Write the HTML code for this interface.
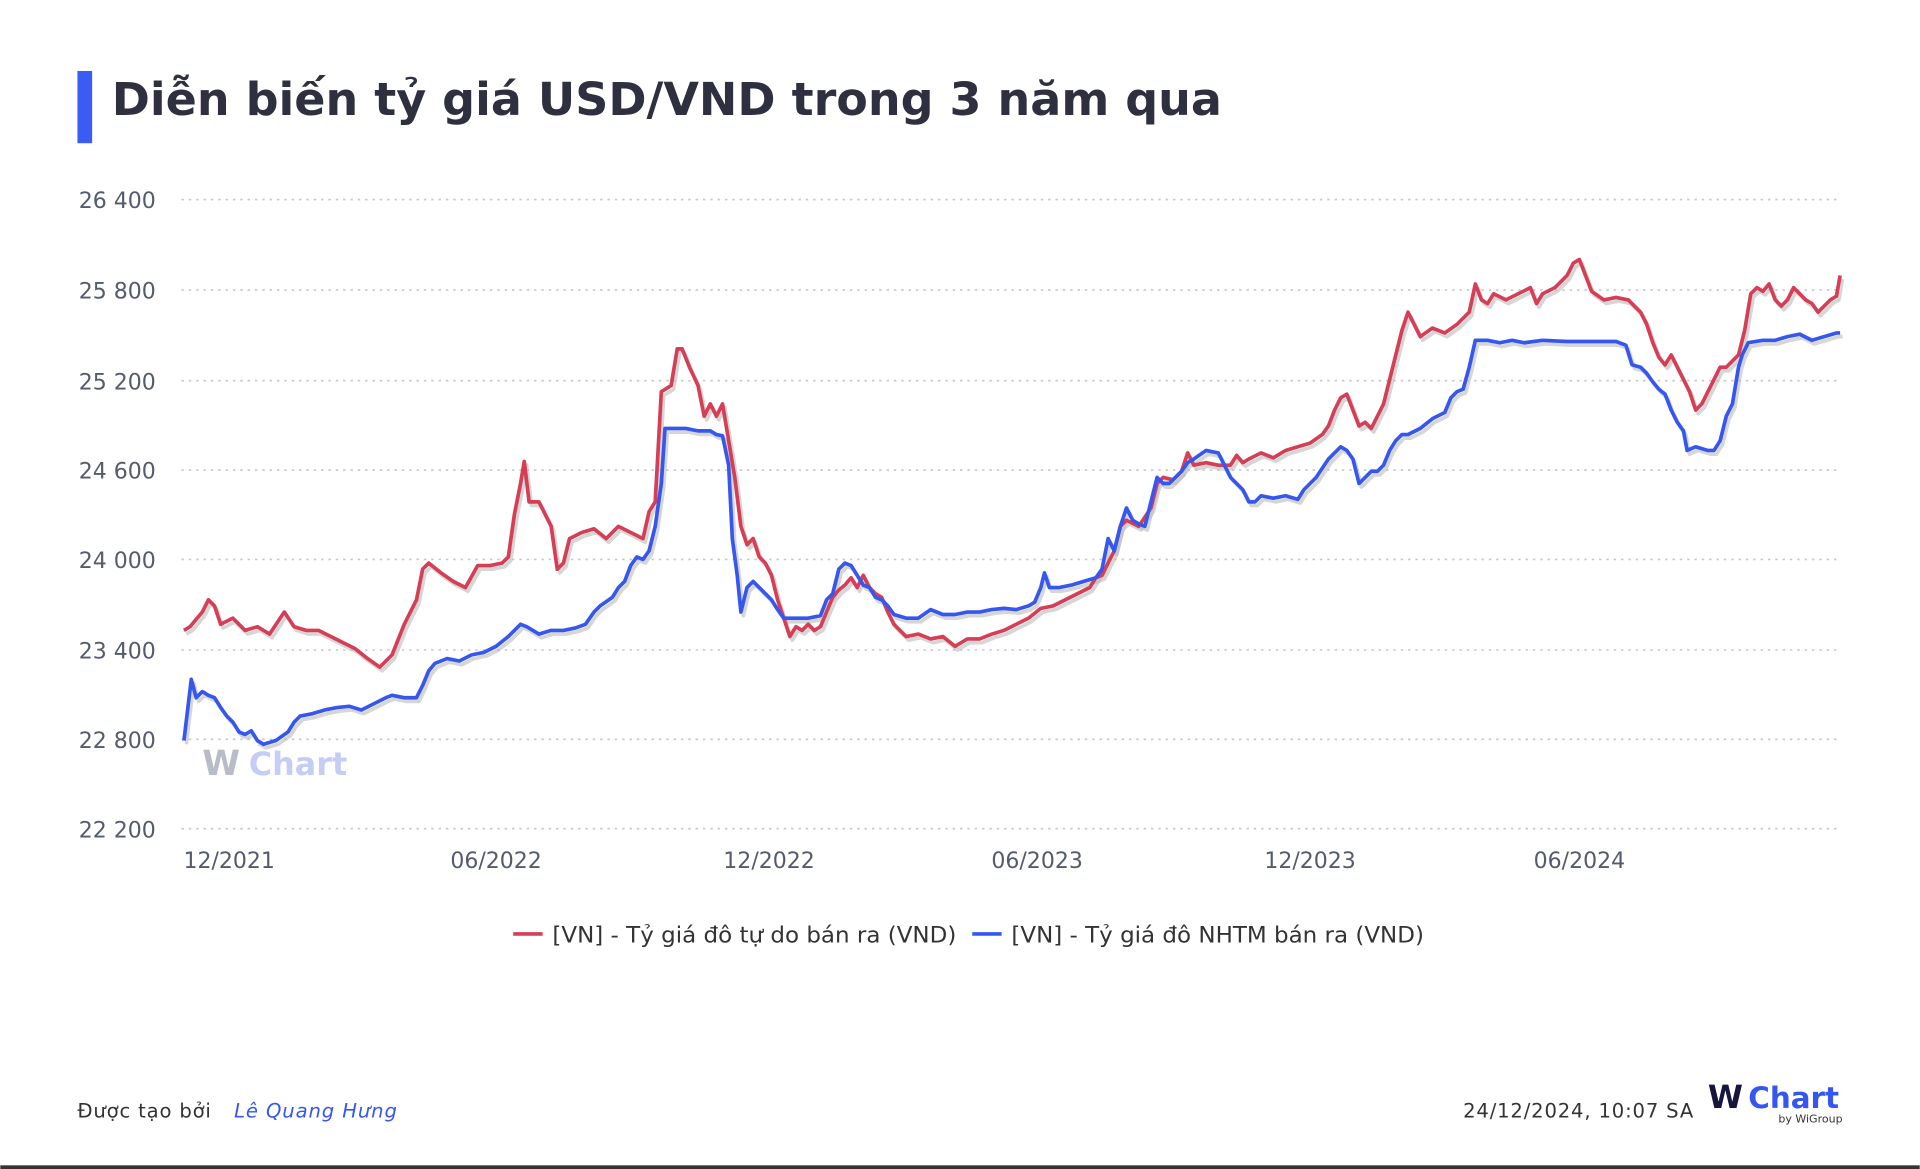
<!DOCTYPE html>
<html><head><meta charset="utf-8"><style>
html,body{margin:0;padding:0;background:#fff;}
svg{display:block;}
text{font-family:"DejaVu Sans","Liberation Sans",sans-serif;}
</style></head><body>
<svg width="1920" height="1169" viewBox="0 0 1568 955" xmlns="http://www.w3.org/2000/svg">
<rect width="1568" height="955" fill="#fff"/>
<rect x="63" y="58" width="12" height="59" fill="#3b5bf5"/>
<text x="91" y="94" font-size="37" font-weight="bold" fill="#2e3040" textLength="907" lengthAdjust="spacingAndGlyphs">Diễn biến tỷ giá USD/VND trong 3 năm qua</text>
<g stroke="#c8c8cc" stroke-width="1.3" stroke-dasharray="2,4">
<line x1="148" x2="1502" y1="163" y2="163"/><line x1="148" x2="1502" y1="237" y2="237"/>
<line x1="148" x2="1502" y1="311" y2="311"/><line x1="148" x2="1502" y1="384" y2="384"/>
<line x1="148" x2="1502" y1="457" y2="457"/><line x1="148" x2="1502" y1="531" y2="531"/>
<line x1="148" x2="1502" y1="604" y2="604"/><line x1="148" x2="1502" y1="677" y2="677"/>
</g>
<g font-size="18" fill="#555b6e" text-anchor="end">
<text x="127" y="170">26 400</text><text x="127" y="244">25 800</text><text x="127" y="318">25 200</text>
<text x="127" y="391">24 600</text><text x="127" y="464">24 000</text><text x="127" y="538">23 400</text>
<text x="127" y="611">22 800</text><text x="127" y="684">22 200</text>
</g>
<g font-size="18" fill="#555b6e" text-anchor="middle">
<text x="187" y="709">12/2021</text><text x="405" y="709">06/2022</text><text x="628" y="709">12/2022</text>
<text x="847" y="709">06/2023</text><text x="1070" y="709">12/2023</text><text x="1290" y="709">06/2024</text>
</g>
<text x="165" y="633" font-size="28" font-weight="bold" fill="#b8bcc8">W</text>
<text x="203" y="633" font-size="26" font-weight="bold" fill="#c5cdf5">Chart</text>
<g fill="none" stroke-linejoin="round">
<polyline transform="translate(2,3)" stroke="#bbb" stroke-width="3" opacity="0.6" points="150,515 155,512 165,500 170,490 175,495 180,510 190,505 200,515 210,512 220,518 232,500 240,512 250,515 260,515 270,520 280,525 290,530 300,538 310,545 320,535 330,510 340,490 345,465 350,460 360,468 370,475 380,480 390,462 400,462 410,460 415,455 420,420 425,395 428,377 432,410 440,410 450,430 455,465 460,460 465,440 475,435 485,432 495,440 505,430 515,435 525,440 530,418 535,410 540,320 548,315 553,285 557,285 563,300 570,315 575,340 580,330 585,340 590,330 595,360 600,390 605,430 610,445 615,440 620,455 625,460 630,470 635,490 640,505 645,520 650,512 655,515 660,510 665,515 670,512 675,500 680,488 685,482 690,478 695,472 700,480 705,470 710,480 715,485 720,488 725,500 730,510 735,515 740,520 750,518 760,522 770,520 780,528 790,522 800,522 810,518 820,515 830,510 840,505 850,497 860,495 870,490 880,485 890,480 895,472 900,470 905,460 910,450 915,430 920,425 930,430 940,415 945,395 950,390 958,392 965,385 970,370 975,380 985,378 995,380 1005,380 1010,372 1015,378 1020,375 1030,370 1040,374 1050,368 1060,365 1070,362 1080,355 1085,348 1090,335 1095,325 1100,322 1105,335 1110,348 1115,345 1120,350 1125,340 1130,330 1135,310 1140,290 1145,270 1150,255 1155,265 1160,275 1170,268 1180,272 1190,265 1200,255 1205,232 1210,245 1215,248 1220,240 1230,245 1240,240 1250,235 1255,248 1260,240 1270,235 1280,225 1285,215 1290,212 1295,225 1300,238 1310,245 1320,243 1330,245 1340,255 1345,265 1350,280 1355,292 1360,298 1365,290 1370,300 1375,310 1380,320 1385,335 1390,330 1395,320 1400,310 1405,300 1410,300 1415,295 1420,290 1425,270 1430,240 1435,235 1440,238 1445,232 1450,245 1455,250 1460,245 1465,235 1470,240 1475,245 1480,248 1485,255 1490,250 1495,245 1500,242 1503,225"/>
<polyline transform="translate(2,3)" stroke="#bbb" stroke-width="3" opacity="0.6" points="150,605 153,580 156,555 160,570 165,565 170,568 175,570 180,578 185,585 190,590 195,598 200,600 205,597 210,605 215,608 225,605 235,598 240,590 245,585 255,583 265,580 275,578 285,577 295,580 305,575 315,570 320,568 330,570 340,570 345,560 350,548 355,542 365,538 375,540 385,535 395,533 405,528 415,520 420,515 425,510 430,512 440,518 450,515 460,515 470,513 478,510 485,500 490,495 500,488 505,480 510,475 515,462 520,455 525,457 530,450 535,430 540,395 543,350 550,350 560,350 570,352 580,352 585,355 590,356 595,380 598,440 602,470 605,500 610,480 615,475 620,480 625,485 630,490 635,498 640,505 650,505 660,505 670,503 675,490 680,485 685,465 690,460 695,462 700,470 705,478 710,480 715,488 720,490 725,495 730,502 740,505 750,505 760,498 770,502 780,502 790,500 800,500 810,498 820,497 830,498 840,495 845,492 850,480 853,468 857,480 865,480 875,478 885,475 895,472 900,465 905,440 910,450 915,430 920,415 925,425 930,428 935,430 940,410 945,390 950,395 955,395 960,390 965,385 970,378 975,375 985,368 995,370 1000,380 1005,390 1010,395 1015,400 1020,410 1025,410 1030,405 1040,407 1050,405 1060,408 1065,400 1070,395 1075,390 1085,375 1095,365 1100,368 1105,375 1110,395 1115,390 1120,385 1125,385 1130,380 1135,368 1140,360 1145,355 1150,355 1160,350 1170,342 1180,337 1185,325 1190,320 1195,318 1200,300 1205,278 1215,278 1225,280 1235,278 1245,280 1260,278 1280,279 1300,279 1320,279 1328,282 1333,298 1340,300 1345,305 1350,312 1355,318 1360,322 1365,335 1370,345 1375,352 1378,368 1385,365 1395,368 1400,368 1405,360 1410,340 1415,330 1420,300 1423,290 1428,280 1440,278 1450,278 1460,275 1470,273 1480,278 1490,275 1500,272 1503,272"/>
<polyline stroke="#d63e55" stroke-width="3" points="150,515 155,512 165,500 170,490 175,495 180,510 190,505 200,515 210,512 220,518 232,500 240,512 250,515 260,515 270,520 280,525 290,530 300,538 310,545 320,535 330,510 340,490 345,465 350,460 360,468 370,475 380,480 390,462 400,462 410,460 415,455 420,420 425,395 428,377 432,410 440,410 450,430 455,465 460,460 465,440 475,435 485,432 495,440 505,430 515,435 525,440 530,418 535,410 540,320 548,315 553,285 557,285 563,300 570,315 575,340 580,330 585,340 590,330 595,360 600,390 605,430 610,445 615,440 620,455 625,460 630,470 635,490 640,505 645,520 650,512 655,515 660,510 665,515 670,512 675,500 680,488 685,482 690,478 695,472 700,480 705,470 710,480 715,485 720,488 725,500 730,510 735,515 740,520 750,518 760,522 770,520 780,528 790,522 800,522 810,518 820,515 830,510 840,505 850,497 860,495 870,490 880,485 890,480 895,472 900,470 905,460 910,450 915,430 920,425 930,430 940,415 945,395 950,390 958,392 965,385 970,370 975,380 985,378 995,380 1005,380 1010,372 1015,378 1020,375 1030,370 1040,374 1050,368 1060,365 1070,362 1080,355 1085,348 1090,335 1095,325 1100,322 1105,335 1110,348 1115,345 1120,350 1125,340 1130,330 1135,310 1140,290 1145,270 1150,255 1155,265 1160,275 1170,268 1180,272 1190,265 1200,255 1205,232 1210,245 1215,248 1220,240 1230,245 1240,240 1250,235 1255,248 1260,240 1270,235 1280,225 1285,215 1290,212 1295,225 1300,238 1310,245 1320,243 1330,245 1340,255 1345,265 1350,280 1355,292 1360,298 1365,290 1370,300 1375,310 1380,320 1385,335 1390,330 1395,320 1400,310 1405,300 1410,300 1415,295 1420,290 1425,270 1430,240 1435,235 1440,238 1445,232 1450,245 1455,250 1460,245 1465,235 1470,240 1475,245 1480,248 1485,255 1490,250 1495,245 1500,242 1503,225"/>
<polyline stroke="#3557ef" stroke-width="3" points="150,605 153,580 156,555 160,570 165,565 170,568 175,570 180,578 185,585 190,590 195,598 200,600 205,597 210,605 215,608 225,605 235,598 240,590 245,585 255,583 265,580 275,578 285,577 295,580 305,575 315,570 320,568 330,570 340,570 345,560 350,548 355,542 365,538 375,540 385,535 395,533 405,528 415,520 420,515 425,510 430,512 440,518 450,515 460,515 470,513 478,510 485,500 490,495 500,488 505,480 510,475 515,462 520,455 525,457 530,450 535,430 540,395 543,350 550,350 560,350 570,352 580,352 585,355 590,356 595,380 598,440 602,470 605,500 610,480 615,475 620,480 625,485 630,490 635,498 640,505 650,505 660,505 670,503 675,490 680,485 685,465 690,460 695,462 700,470 705,478 710,480 715,488 720,490 725,495 730,502 740,505 750,505 760,498 770,502 780,502 790,500 800,500 810,498 820,497 830,498 840,495 845,492 850,480 853,468 857,480 865,480 875,478 885,475 895,472 900,465 905,440 910,450 915,430 920,415 925,425 930,428 935,430 940,410 945,390 950,395 955,395 960,390 965,385 970,378 975,375 985,368 995,370 1000,380 1005,390 1010,395 1015,400 1020,410 1025,410 1030,405 1040,407 1050,405 1060,408 1065,400 1070,395 1075,390 1085,375 1095,365 1100,368 1105,375 1110,395 1115,390 1120,385 1125,385 1130,380 1135,368 1140,360 1145,355 1150,355 1160,350 1170,342 1180,337 1185,325 1190,320 1195,318 1200,300 1205,278 1215,278 1225,280 1235,278 1245,280 1260,278 1280,279 1300,279 1320,279 1328,282 1333,298 1340,300 1345,305 1350,312 1355,318 1360,322 1365,335 1370,345 1375,352 1378,368 1385,365 1395,368 1400,368 1405,360 1410,340 1415,330 1420,300 1423,290 1428,280 1440,278 1450,278 1460,275 1470,273 1480,278 1490,275 1500,272 1503,272"/>
</g>
<line x1="419" x2="443" y1="763" y2="763" stroke="#d63e55" stroke-width="3"/>
<text x="451" y="770" font-size="18" fill="#333" textLength="330" lengthAdjust="spacingAndGlyphs">[VN] - Tỷ giá đô tự do bán ra (VND)</text>
<line x1="794" x2="818" y1="763" y2="763" stroke="#3557ef" stroke-width="3"/>
<text x="826" y="770" font-size="18" fill="#333" textLength="337" lengthAdjust="spacingAndGlyphs">[VN] - Tỷ giá đô NHTM bán ra (VND)</text>
<text x="63" y="913" font-size="16" fill="#333" textLength="109">Được tạo bởi</text>
<text x="191" y="913" font-size="16" font-style="italic" fill="#3557ef" textLength="133">Lê Quang Hưng</text>
<text x="1195" y="913" font-size="16" fill="#333" textLength="188">24/12/2024, 10:07 SA</text>
<text x="1395" y="905" font-size="26" font-weight="bold" fill="#14163c">W</text>
<text x="1428" y="905" font-size="24" font-weight="bold" fill="#3557ef">Chart</text>
<text x="1505" y="917" font-size="9" fill="#333" text-anchor="end">by WiGroup</text>
<rect x="0" y="952" width="1568" height="3" fill="#333"/>
</svg>
</body></html>
